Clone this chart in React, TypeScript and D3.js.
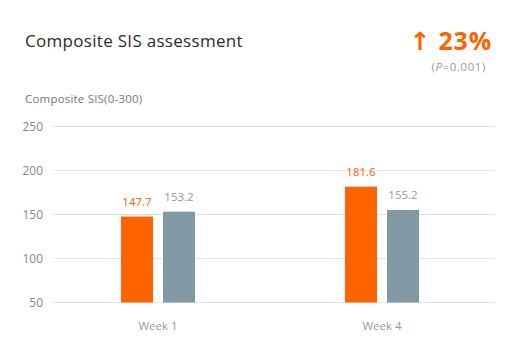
import React from "react";
import * as d3 from "d3";

const categories = ["Week 1", "Week 4"];
const seriesA = [147.7, 181.6];
const seriesB = [153.2, 155.2];
const yTicks = [50, 100, 150, 200, 250];

const W = 520;
const H = 360;
const ORANGE = "#ff6200";
const GRAY_BAR = "#8198a5";
const FONT = "'Open Sans', 'DejaVu Sans', sans-serif";

export default function App() {
  const y = d3.scaleLinear().domain([50, 250]).range([302.5, 126.5]);
  const x = d3.scaleBand<string>().domain(categories).range([46, 494]);
  const bw = 32;
  const gap = 10;
  const data = categories.map((c, i) => ({ c, a: seriesA[i], b: seriesB[i] }));

  return (
    <svg width={W} height={H} style={{ position: "absolute", left: 0, top: 0, background: "#fff" }} fontFamily={FONT}>
      <text x={25} y={47} fontSize={17} fill="#2b2b2b" fontWeight={500} letterSpacing={0.3}>Composite SIS assessment</text>
      <text x={25} y={103} fontSize={11.5} fill="#777" letterSpacing={0.2}>Composite SIS(0-300)</text>
      <text x={492} y={50} fontSize={25} fill={ORANGE} fontWeight={700} textAnchor="end" letterSpacing={0.8}>↑ 23%</text>
      <text x={486} y={71} fontSize={11.5} fill="#999" textAnchor="end" letterSpacing={0.6}>
        (<tspan fontStyle="italic">P</tspan>=0.001)
      </text>
      {yTicks.map((t) => (
        <g key={t}>
          <line x1={53} x2={495} y1={y(t)} y2={y(t)} stroke="#e3e3e3" strokeWidth={1} />
          <text x={43} y={y(t)} dy="0.35em" fontSize={12} fill="#888" textAnchor="end">{t}</text>
        </g>
      ))}
      {data.map((d) => {
        const cx = (x(d.c) as number) + x.bandwidth() / 2;
        const xa = cx - gap / 2 - bw;
        const xb = cx + gap / 2;
        return (
          <g key={d.c}>
            <rect x={xa} y={y(d.a)} width={bw} height={y(50) - y(d.a)} fill={ORANGE} />
            <rect x={xb} y={y(d.b)} width={bw} height={y(50) - y(d.b)} fill={GRAY_BAR} />
            <text x={xa + bw / 2} y={y(d.a) - 11} fontSize={11.5} fill={ORANGE} textAnchor="middle">{d.a.toFixed(1)}</text>
            <text x={xb + bw / 2} y={y(d.b) - 11} fontSize={11.5} fill="#8a9ba6" textAnchor="middle">{d.b.toFixed(1)}</text>
            <text x={cx} y={330} fontSize={11.5} fill="#999" textAnchor="middle">{d.c}</text>
          </g>
        );
      })}
    </svg>
  );
}
